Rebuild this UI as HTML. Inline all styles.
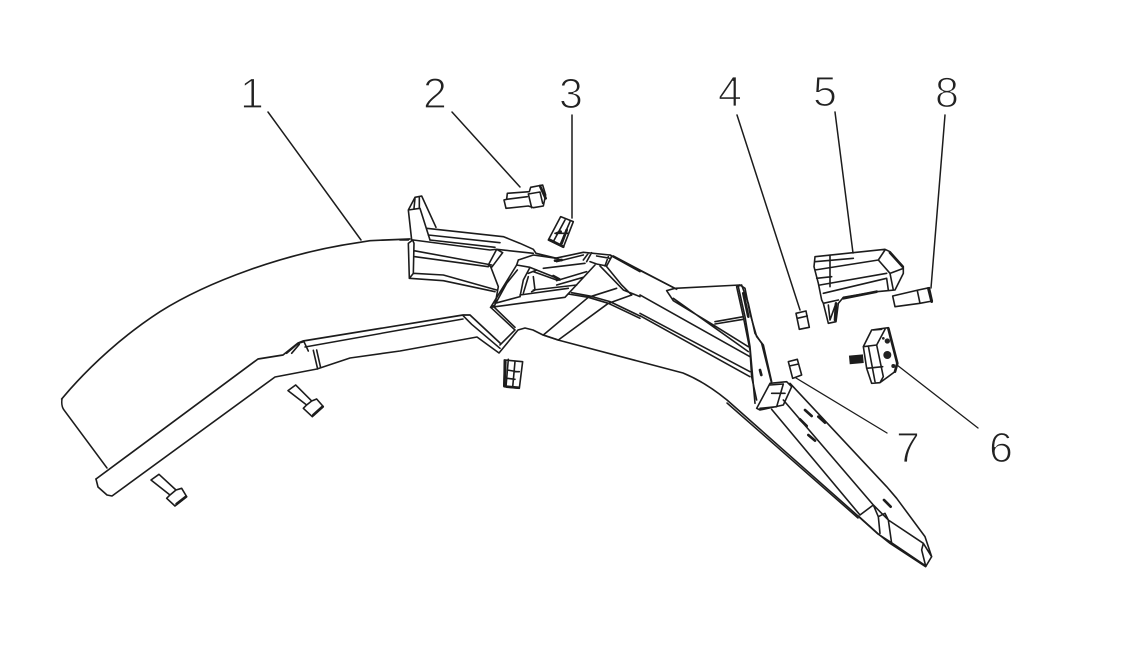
<!DOCTYPE html>
<html><head><meta charset="utf-8"><style>
html,body{margin:0;padding:0;background:#fff;width:1138px;height:650px;overflow:hidden}
svg{display:block}
.l{fill:none;stroke:#1c1c1c;stroke-linejoin:round;stroke-linecap:round}
.z path{stroke-width:4.8}
.z path.t{stroke-width:8}
.z circle{fill:#222;stroke:none}
.draw{filter:blur(.35px)}
text{font-family:"Liberation Sans",sans-serif;font-size:43px;fill:#222;stroke:#fff;stroke-width:1.3px;text-anchor:middle}
</style></head><body>
<svg width="1138" height="650" viewBox="0 0 1138 650" xmlns="http://www.w3.org/2000/svg">
<text x="252" y="108">1</text><text x="435" y="108">2</text><text x="571" y="108">3</text>
<text x="730" y="106">4</text><text x="825" y="106">5</text><text x="947" y="107">8</text>
<text x="908" y="462">7</text><text x="1001" y="462">6</text>
<g class="draw">
<g class="l" stroke-width="1.5">
<path d="M268,112L361,240M452,112L520,187M572,115L572,218M737,115L800,310M835,112L853,253M945,115L931,288"/>
<path d="M796,378L887,433M897,365L978,428" stroke-width="1.3"/>
<path d="M62,399Q61,406 64,410L107,468"/>
<path d="M96,479L258,359L283,355L298,343L303,341L463,315L470,315L500,343" stroke-width="1.7"/>
<path d="M96,479L98,487L107,495L112,496L275,377L317,369L350,358L400,351L477,337L499,353L518,330L525,328L533,330L543,335L558,340L683,373Q705,382 727,400L858,516L878,534L892,543L926,566" stroke-width="1.6"/>
<path d="M727,403L858,518"/>
<path d="M305,347L400,330L463,319"/>
</g>
<!-- long arc -->
<g class="l z" transform="translate(50,225) scale(.3333)">
<path d="M35,522C120,420 225,328 330,260C470,172 700,85 930,52L960,47L1080,42" style="stroke-width:5"/>
<path d="M710,385L745,355L762,350L775,378M725,385L748,358M790,376L803,432M800,375L812,428"/>
</g>
<!-- centre -->
<g class="l z" transform="translate(400,190) scale(.3333)">
<path d="M25,60L45,22L65,18L108,112M45,25L42,55M25,60L60,55L90,150M58,20L58,55M25,60L35,150"/>
<path d="M80,115L310,140L360,160L400,178L408,190L470,205M85,135L300,158M40,150L270,180L290,178L400,190M90,150L285,172"/>
<path d="M38,150L25,160L28,265L40,250L42,160ZM0,150L25,150M42,182L275,225M45,200L265,230M40,250L130,255L290,300M28,265L130,272L285,305"/>
<path d="M265,225L290,178L308,188L275,232ZM272,230L295,290L285,345L272,352"/>
<path d="M272,352L495,322L585,225M285,340L360,320M272,352L310,290L350,225M290,335L320,280L352,240"/>
<path d="M355,210L400,195L470,205L480,210M355,210L350,225L390,232L465,262L480,270M360,320L370,270L390,232M370,310L385,260M400,260L405,300L395,305M360,315L505,295M400,245L470,270M430,235L555,220M470,272L560,245M470,285L550,262M400,300L530,285M385,250L410,240"/>
<path d="M465,205L550,187L630,195L720,245M470,215L550,195M550,210L565,190M575,188L560,215M590,198L630,205M570,215L590,222L620,228L635,200M625,200L615,228"/>
<path d="M600,228L670,300L720,320M620,230L665,285L695,315"/>
<path d="M505,312L565,322L625,340L720,385M515,308L570,318L630,335L720,378M565,322L430,435M625,340L475,450M565,322L650,295M625,340L695,315"/>
<path d="M190,378L215,403L300,475M300,465L345,420M272,352L345,420M283,352L345,412M430,435L475,450"/>
<path class="t" d="M465,212L485,210M460,258L478,268"/>
</g>
<!-- right arm and small parts -->
<g class="l z" transform="translate(400,170) scale(.3333)">
<path d="M825,355L1020,345M640,258L830,358M800,362L825,355M800,362L820,392L940,465L1045,530M820,385L1045,545"/>
<path d="M720,375L1050,560M720,437L1050,620M720,430L1050,605"/>
<path d="M945,455L1030,440M945,462L1030,448"/>
<path d="M1010,350L1025,345L1045,400L1065,490L1085,520L1115,640M1010,350L1030,440L1050,540L1055,620L1070,690"/>
<path class="t" d="M1030,370L1045,440"/>
<path d="M630,255L825,355"/>
<path d="M312,90L318,115L385,108L400,113L430,108L437,75L428,45L392,52L388,65L322,70L320,88ZM320,88L382,80M385,72L420,66L428,100M385,72L395,113"/>
<path class="t" d="M420,48L437,85"/>
<path d="M445,210L482,140L520,155L490,232ZM460,215L495,150M480,225L510,155M465,190L505,190"/>
<path class="t" d="M470,190L482,185M485,220L500,180M450,210L490,230"/>
<path d="M313,570L368,575L358,655L312,650ZM325,568L318,650M345,575L338,652M322,600L350,605M322,625L345,628M345,605L358,605"/>
<path class="t" d="M316,575L313,648M320,650L355,653"/>
</g>
<!-- tail -->
<g class="l z" transform="translate(750,380) scale(.3333)">
<path d="M20,85L60,10L110,5L125,20L100,75L30,90ZM60,15L100,12L80,80M30,85L80,80M65,40L105,40"/>
<path d="M120,10L410,320L440,355L525,470L545,530L527,560L420,490L385,462L325,408M65,88L330,405M100,60L370,375M330,405L370,375L395,400L415,420L425,490M370,375L385,410L390,460M385,410L405,400L415,420M415,420L520,490L545,530M520,490L515,510L527,558"/>
<path class="t" d="M165,90L185,108M150,118L170,138M175,165L195,182M205,110L225,128M402,360L422,380"/>
</g>
<!-- parts 4, 7 and plate -->
<g class="l z" transform="translate(720,230) scale(.3333)">
<path d="M60,165L75,175L90,250L110,320L130,345L155,455M55,170L75,260L90,350L105,520"/>
<path class="t" d="M120,420L124,435"/>
<path d="M228,250L258,243L268,292L238,298ZM232,265L262,258"/>
<path d="M205,395L232,388L245,435L218,445ZM208,408L236,402"/>
</g>
<!-- parts 5, 6, 8 -->
<g class="l z" transform="translate(810,240) scale(.3333)">
<path d="M15,50L225,28L240,35L280,80L280,100L255,150L200,155L100,172L85,190L78,245L55,250L40,190L35,180L25,130L12,80ZM15,65L130,55M15,90L205,60M60,45L60,140M30,135L230,100M40,160L230,115L235,150M205,60L225,30M205,60L240,100L280,85M240,100L250,150M20,115L65,110M40,190L85,180M55,195L60,240L78,190"/>
<path class="t" d="M100,175L200,155M240,38L278,80M78,190L75,240"/>
<path d="M248,168L325,150L358,143L367,183L330,190L255,200ZM322,152L330,190"/>
<path class="t" d="M355,145L365,185"/>
<path d="M160,320L185,270L235,263L262,370L255,395L210,428L185,430L170,385ZM160,320L200,315L220,410L210,428M200,315L225,268M175,318L195,425M170,385L218,380M190,270L215,268"/>
<path class="t" d="M235,265L262,370L255,395"/>
<circle cx="232" cy="303" r="8"/><circle cx="232" cy="345" r="12"/><circle cx="250" cy="378" r="6"/><circle cx="220" cy="295" r="4"/>
<path d="M118,360L160,356" style="stroke-width:26;stroke-linecap:butt"/>
</g>
<!-- bolts -->
<g class="l z" transform="translate(50,320) scale(.3333)">
<path d="M303,480L327,463L378,510L395,505L410,530L375,558L350,535L360,525ZM360,525L378,510M350,535L375,558"/>
<path class="t" d="M380,552L408,530"/>
<path d="M714,212L737,195L785,243L800,237L820,260L787,290L760,265L770,255ZM770,255L785,243M760,265L787,290"/>
<path class="t" d="M790,285L818,260"/>
</g>
</g>
</svg>
</body></html>
